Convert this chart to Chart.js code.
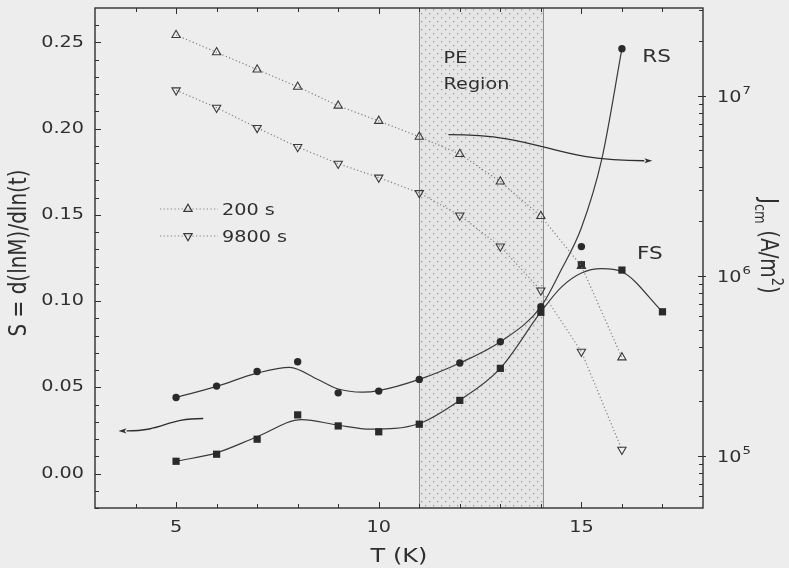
<!DOCTYPE html>
<html>
<head>
<meta charset="utf-8">
<script src="https://cdn.jsdelivr.net/npm/chart.js@4.4.1/dist/chart.umd.min.js"></script>
<style>
  html, body { margin: 0; padding: 0; background: #ededed; }
  canvas { display: block; }
</style>
</head>
<body>
<canvas id="relax" width="789" height="568"></canvas>
<script>
// relaxation rate S after 200 s and 9800 s
var temps = [5, 6, 7, 8, 9, 10, 11, 12, 13, 14, 15, 16];
var s200  = [0.2543, 0.2443, 0.2343, 0.2243, 0.2133, 0.2045, 0.1953, 0.1853, 0.1693, 0.1493, 0.1203, 0.0673];
var s9800 = [0.2223, 0.2122, 0.2005, 0.1894, 0.1797, 0.1717, 0.1627, 0.1497, 0.1317, 0.1062, 0.0707, 0.0138];

// RS (circles) and FS (squares)
var rsTemps = [5, 6, 7, 8, 9, 10, 11, 12, 13, 14, 15, 16];
var rsVals  = [0.0441, 0.0507, 0.0592, 0.0648, 0.0468, 0.0478, 0.0546, 0.0641, 0.0764, 0.0967, 0.1316, 0.2464];
var fsTemps = [5, 6, 7, 8, 9, 10, 11, 12, 13, 14, 15, 16, 17];
var fsVals  = [0.0071, 0.0112, 0.0199, 0.0340, 0.0276, 0.0242, 0.0286, 0.0424, 0.0610, 0.0935, 0.1211, 0.1180, 0.0938];

// smoothed guide curves
var rsFitT = [5, 6, 7, 7.8, 8.5, 9, 9.6, 10, 11, 12, 13, 14, 14.5, 15, 15.5, 16];
var rsFitS = [0.0441, 0.0505, 0.0582, 0.0616, 0.0545, 0.0490, 0.0472, 0.0481, 0.0546, 0.0641, 0.0764, 0.0967, 0.1180, 0.1425, 0.1820, 0.2464];
var fsFitT = [5, 6, 7, 8.1, 9, 9.8, 11, 12, 13, 14, 14.5, 15, 15.5, 16, 17];
var fsFitS = [0.0071, 0.0120, 0.0213, 0.0313, 0.0280, 0.0257, 0.0290, 0.0425, 0.0610, 0.0937, 0.1080, 0.1163, 0.1188, 0.1170, 0.0938];

// peak effect window (K)
var peRegion = [11, 14.05];

// arrows: [start, end] in (T, S)
var arrowToJc = [[11.72, 0.1965], [16.75, 0.1814]];
var arrowToS  = [[5.67, 0.0319], [3.58, 0.0247]];

// axes
var xMajor = [5, 10, 15];
var xLabels = ['5', '10', '15'];
var sMajor = [0, 0.05, 0.10, 0.15, 0.20, 0.25];
var sLabels = ['0.00', '0.05', '0.10', '0.15', '0.20', '0.25'];
var jcmMajor = [1e5, 1e6, 1e7];
var jcmExp = ['5', '6', '7'];

var INK = '#2f2f2f';
var FONT = '"DejaVu Sans", sans-serif';
var SX = 1.2;

function pts(xs, ys) {
  return xs.map(function (x, i) { return { x: x, y: ys[i] }; });
}

function wideText(ctx, str, x, y, size, align, base, rot) {
  ctx.save();
  ctx.translate(x, y);
  ctx.scale(SX, 1);
  if (rot) ctx.rotate(rot);
  ctx.font = size + 'px ' + FONT;
  ctx.textAlign = align || 'left';
  ctx.textBaseline = base || 'alphabetic';
  ctx.fillStyle = INK;
  ctx.fillText(str, 0, 0);
  ctx.restore();
}

// runs of text with sub/superscripts, centred on (x, y) along the text direction
function richText(ctx, runs, x, y, rot) {
  ctx.save();
  ctx.translate(x, y);
  ctx.scale(SX, 1);
  ctx.rotate(rot);
  ctx.fillStyle = INK;
  ctx.textBaseline = 'alphabetic';
  ctx.textAlign = 'left';
  var total = 0;
  runs.forEach(function (r) {
    ctx.font = r.size + 'px ' + FONT;
    r.w = ctx.measureText(r.t).width;
    total += r.w;
  });
  var cx = -total / 2;
  runs.forEach(function (r) {
    ctx.font = r.size + 'px ' + FONT;
    ctx.fillText(r.t, cx, r.dy || 0);
    cx += r.w;
  });
  ctx.restore();
}

function dotPattern(ctx) {
  var c = document.createElement('canvas');
  c.width = 8; c.height = 8;
  var p = c.getContext('2d');
  p.fillStyle = 'rgba(0,0,0,0.03)';
  p.fillRect(0, 0, 8, 8);
  p.fillStyle = '#9a9a9a';
  p.fillRect(1, 1, 1.3, 1.3);
  p.fillRect(5, 5, 1.3, 1.3);
  return ctx.createPattern(c, 'repeat');
}

function drawArrow(ctx, xs, ys, seg) {
  var x0 = xs.getPixelForValue(seg[0][0]), y0 = ys.getPixelForValue(seg[0][1]);
  var x1 = xs.getPixelForValue(seg[1][0]), y1 = ys.getPixelForValue(seg[1][1]);
  var dir = x1 > x0 ? 1 : -1;
  var head = 8;
  var xe = x1 - dir * head;
  var dx = xe - x0;
  ctx.save();
  ctx.strokeStyle = INK;
  ctx.fillStyle = INK;
  ctx.lineWidth = 1.3;
  ctx.beginPath();
  ctx.moveTo(x0, y0);
  ctx.bezierCurveTo(x0 + dx * 0.5, y0, xe - dx * 0.5, y1, xe, y1);
  ctx.stroke();
  ctx.beginPath();
  ctx.moveTo(x1, y1);
  ctx.lineTo(xe, y1 - 2.6);
  ctx.lineTo(xe + dir * 2, y1);
  ctx.lineTo(xe, y1 + 2.6);
  ctx.closePath();
  ctx.fill();
  ctx.restore();
}

var figure = {
  id: 'figure',
  beforeDatasetsDraw: function (chart) {
    var ctx = chart.ctx, a = chart.chartArea, xs = chart.scales.x;
    var l = xs.getPixelForValue(peRegion[0]), r = xs.getPixelForValue(peRegion[1]);
    ctx.save();
    ctx.fillStyle = dotPattern(ctx);
    ctx.fillRect(l, a.top, r - l, a.bottom - a.top);
    ctx.strokeStyle = '#8c8c8c';
    ctx.lineWidth = 1;
    [l, r].forEach(function (px) {
      ctx.beginPath();
      ctx.moveTo(Math.round(px) + 0.5, a.top);
      ctx.lineTo(Math.round(px) + 0.5, a.bottom);
      ctx.stroke();
    });
    ctx.restore();
  },
  afterDatasetsDraw: function (chart) {
    var ctx = chart.ctx, a = chart.chartArea;
    var xs = chart.scales.x, ys = chart.scales.y, js = chart.scales.y2;
    var i, k, d, px, py;

    // frame
    ctx.save();
    ctx.strokeStyle = INK;
    ctx.lineWidth = 1.4;
    ctx.strokeRect(a.left, a.top, a.right - a.left, a.bottom - a.top);

    // tick marks, all pointing into the plot
    ctx.lineWidth = 1;
    function hTick(v, len) {
      px = Math.round(xs.getPixelForValue(v)) + 0.5;
      ctx.beginPath();
      ctx.moveTo(px, a.bottom); ctx.lineTo(px, a.bottom - len);
      ctx.moveTo(px, a.top); ctx.lineTo(px, a.top + len);
      ctx.stroke();
    }
    for (i = 4; i <= 17; i++) hTick(i, xMajor.indexOf(i) >= 0 ? 6 : 4);
    for (i = -2; i <= 26; i++) {
      py = Math.round(ys.getPixelForValue(i / 100)) + 0.5;
      ctx.beginPath();
      ctx.moveTo(a.left, py); ctx.lineTo(a.left + (i % 5 === 0 ? 6 : 4), py);
      ctx.stroke();
    }
    for (d = 4; d <= 7; d++) {
      for (k = 1; k <= 9; k++) {
        var v = k * Math.pow(10, d);
        if (v < js.min || v > js.max) continue;
        py = Math.round(js.getPixelForValue(v)) + 0.5;
        ctx.beginPath();
        if (k === 1) { ctx.moveTo(a.right - 5, py); ctx.lineTo(a.right + 3, py); }
        else { ctx.moveTo(a.right - 4, py); ctx.lineTo(a.right, py); }
        ctx.stroke();
      }
    }
    ctx.restore();

    // tick labels
    sMajor.forEach(function (v, j) {
      wideText(ctx, sLabels[j], a.left - 11, ys.getPixelForValue(v), 16, 'right', 'middle');
    });
    xMajor.forEach(function (v, j) {
      wideText(ctx, xLabels[j], xs.getPixelForValue(v), a.bottom + 20, 16, 'center', 'middle');
    });
    jcmMajor.forEach(function (v, j) {
      var y = js.getPixelForValue(v);
      ctx.save();
      ctx.font = '16px ' + FONT;
      var w = ctx.measureText('10').width * SX;
      ctx.restore();
      wideText(ctx, '10', a.right + 14, y + 6, 16, 'left', 'alphabetic');
      wideText(ctx, jcmExp[j], a.right + 15 + w, y - 2, 11, 'left', 'alphabetic');
    });

    // axis titles
    wideText(ctx, 'T (K)', (xs.getPixelForValue(10) + xs.getPixelForValue(11)) / 2, 557, 20, 'center', 'middle');
    wideText(ctx, 'S = d(lnM)/dln(t)', 20, 253, 20, 'center', 'middle', -Math.PI / 2);
    richText(ctx, [
      { t: 'J', size: 20 },
      { t: 'cm', size: 13, dy: 5 },
      { t: ' (A/m', size: 20 },
      { t: '2', size: 13, dy: -9 },
      { t: ')', size: 20 }
    ], 761, 246, Math.PI / 2);

    // annotations
    wideText(ctx, 'PE', xs.getPixelForValue(11.6), ys.getPixelForValue(0.2381), 16);
    wideText(ctx, 'Region', xs.getPixelForValue(11.6), ys.getPixelForValue(0.2233), 16);
    wideText(ctx, 'RS', xs.getPixelForValue(16.5), ys.getPixelForValue(0.2387), 18);
    wideText(ctx, 'FS', xs.getPixelForValue(16.37), ys.getPixelForValue(0.1243), 18);

    drawArrow(ctx, xs, ys, arrowToJc);
    drawArrow(ctx, xs, ys, arrowToS);

    // legend
    [0, 1].forEach(function (j) {
      var ds = chart.data.datasets[j];
      var ly = a.top + 201 + j * 27;
      ctx.save();
      ctx.strokeStyle = ds.borderColor;
      ctx.lineWidth = ds.borderWidth;
      ctx.setLineDash(ds.borderDash);
      ctx.beginPath();
      ctx.moveTo(a.left + 65, ly); ctx.lineTo(a.left + 123, ly);
      ctx.stroke();
      ctx.setLineDash([]);
      ctx.strokeStyle = ds.pointBorderColor;
      ctx.fillStyle = ds.pointBackgroundColor;
      Chart.helpers.drawPoint(ctx, {
        pointStyle: ds.pointStyle, rotation: ds.pointRotation || 0,
        radius: ds.pointRadius, borderWidth: ds.pointBorderWidth
      }, a.left + 93, ly);
      ctx.restore();
      wideText(ctx, ds.label, a.left + 127, ly + 2, 16, 'left', 'middle');
    });
  }
};

var dotted = { borderColor: '#808080', borderWidth: 1.2, borderDash: [1.2, 2.4] };

new Chart(document.getElementById('relax'), {
  type: 'scatter',
  data: {
    datasets: [
      Object.assign({
        label: '200 s', data: pts(temps, s200), showLine: true, tension: 0,
        pointStyle: 'triangle', pointRadius: 4.8, pointBorderWidth: 1.1,
        pointBorderColor: '#3a3a3a', pointBackgroundColor: 'rgba(0,0,0,0)'
      }, dotted),
      Object.assign({
        label: '9800 s', data: pts(temps, s9800), showLine: true, tension: 0,
        pointStyle: 'triangle', pointRotation: 180, pointRadius: 4.8, pointBorderWidth: 1.1,
        pointBorderColor: '#3a3a3a', pointBackgroundColor: 'rgba(0,0,0,0)'
      }, dotted),
      {
        label: 'RS', data: pts(rsTemps, rsVals), showLine: false,
        pointStyle: 'circle', pointRadius: 3.7, pointBorderWidth: 0,
        pointBackgroundColor: '#2a2a2a'
      },
      {
        label: 'FS', data: pts(fsTemps, fsVals), showLine: false,
        pointStyle: 'rect', pointRadius: 5.1, pointBorderWidth: 0,
        pointBackgroundColor: '#2a2a2a'
      },
      {
        label: 'RS curve', data: pts(rsFitT, rsFitS), showLine: true,
        cubicInterpolationMode: 'monotone', pointRadius: 0,
        borderColor: '#3a3a3a', borderWidth: 1.2
      },
      {
        label: 'FS curve', data: pts(fsFitT, fsFitS), showLine: true,
        cubicInterpolationMode: 'monotone', pointRadius: 0,
        borderColor: '#3a3a3a', borderWidth: 1.2
      }
    ]
  },
  options: {
    responsive: false,
    animation: false,
    devicePixelRatio: 1,
    layout: { padding: { top: 8, left: 0, right: 0, bottom: 0 } },
    plugins: { legend: { display: false }, tooltip: { enabled: false } },
    scales: {
      x: {
        type: 'linear', min: 3, max: 18,
        ticks: { display: false }, grid: { display: false }, border: { display: false },
        afterFit: function (s) { s.height = 60; }
      },
      y: {
        position: 'left', min: -0.02, max: 0.27,
        ticks: { display: false }, grid: { display: false }, border: { display: false },
        afterFit: function (s) { s.width = 95; }
      },
      y2: {
        type: 'logarithmic', position: 'right',
        min: Math.pow(10, 4.709), max: Math.pow(10, 7.487),
        ticks: { display: false }, grid: { display: false }, border: { display: false },
        afterFit: function (s) { s.width = 86; }
      }
    }
  },
  plugins: [figure]
});
</script>
</body>
</html>
